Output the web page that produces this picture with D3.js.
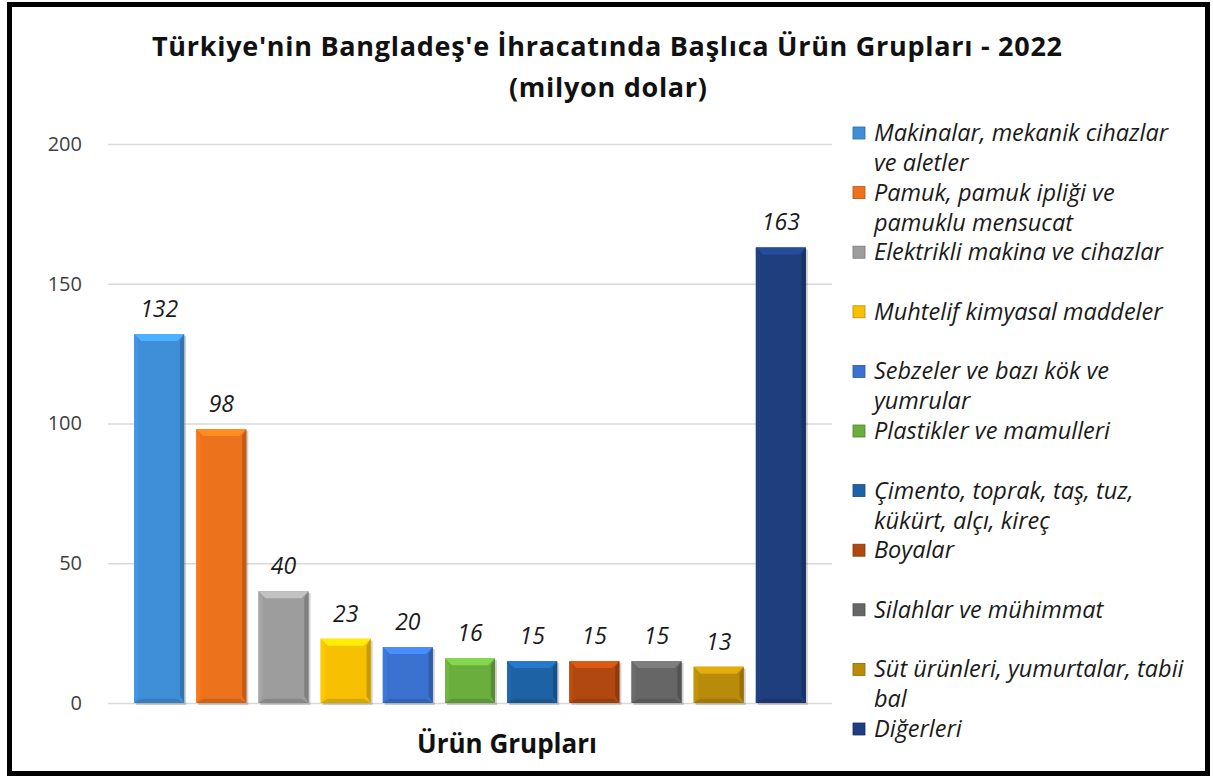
<!DOCTYPE html>
<html>
<head>
<meta charset="utf-8">
<script src="https://cdn.jsdelivr.net/npm/d3@7"></script>
<style>
  body { margin: 0; background: #fff; }
  svg text { font-family: "Open Sans", Lato, sans-serif; }
</style>
</head>
<body>
<div id="chart"></div>
<script>
// data
const categories = [
    'Makinalar, mekanik cihazlar ve aletler',
    'Pamuk, pamuk ipliği ve pamuklu mensucat',
    'Elektrikli makina ve cihazlar',
    'Muhtelif kimyasal maddeler',
    'Sebzeler ve bazı kök ve yumrular',
    'Plastikler ve mamulleri',
    'Çimento, toprak, taş, tuz, kükürt, alçı, kireç',
    'Boyalar',
    'Silahlar ve mühimmat',
    'Süt ürünleri, yumurtalar, tabii bal',
    'Diğerleri'
];
const values = [132, 98, 40, 23, 20, 16, 15, 15, 15, 13, 163];
const colors = ['#3f8fd8', '#ec721b', '#9d9d9d', '#f7c000', '#3b72d0', '#6aae3e',
    '#1e62a6', '#b0480f', '#666666', '#b88c0a', '#1f3e7e'];
// legend wraps the way the original does
const legendLines = [
    ['Makinalar, mekanik cihazlar', 've aletler'],
    ['Pamuk, pamuk ipliği ve', 'pamuklu mensucat'],
    ['Elektrikli makina ve cihazlar'],
    ['Muhtelif kimyasal maddeler'],
    ['Sebzeler ve bazı kök ve', 'yumrular'],
    ['Plastikler ve mamulleri'],
    ['Çimento, toprak, taş, tuz,', 'kükürt, alçı, kireç'],
    ['Boyalar'],
    ['Silahlar ve mühimmat'],
    ['Süt ürünleri, yumurtalar, tabii', 'bal'],
    ['Diğerleri']
];
const yTicks = [0, 50, 100, 150, 200];
const titleLines = ["Türkiye'nin Bangladeş'e İhracatında Başlıca Ürün Grupları - 2022", '(milyon dolar)'];
const xTitle = 'Ürün Grupları';

const width = 1213;
const height = 778;

let svg = d3.select('#chart').append('svg')
    .attr('width', width)
    .attr('height', height);

// frame
svg.append('rect')
    .attr('x', 9.5).attr('y', 4.5)
    .attr('width', 1198).attr('height', 769)
    .attr('fill', '#fff')
    .attr('stroke', '#000')
    .attr('stroke-width', 5);

// title (stretched to the original's width)
svg.append('text')
    .attr('x', 607).attr('y', 56)
    .attr('text-anchor', 'middle')
    .attr('font-size', 27).attr('font-weight', 'bold')
    .attr('fill', '#111')
    .attr('textLength', 910).attr('lengthAdjust', 'spacing')
    .text(titleLines[0]);
svg.append('text')
    .attr('x', 608).attr('y', 97)
    .attr('text-anchor', 'middle')
    .attr('font-size', 27).attr('font-weight', 'bold')
    .attr('fill', '#111')
    .attr('textLength', 198).attr('lengthAdjust', 'spacing')
    .text(titleLines[1]);

let x = d3.scaleBand()
    .domain(categories)
    .range([108, 832])
    .paddingInner(0.195)
    .paddingOuter(0.42);

let y = d3.scaleLinear()
    .domain([0, 200])
    .range([703, 144]);

// gridlines + tick labels
let yAxis = svg.append('g')
    .attr('transform', 'translate(108,0)')
    .call(d3.axisLeft(y).tickValues(yTicks).tickSize(-724).tickPadding(26));
yAxis.select('.domain').remove();
yAxis.selectAll('.tick line').attr('stroke', '#d9d9d9').attr('stroke-width', 1.3);
yAxis.selectAll('.tick text')
    .attr('font-size', 20)
    .attr('fill', '#404040')
    .style('font-family', '"Open Sans", sans-serif');

// bars with a bevel look
const b = 7;
let bars = svg.append('g').selectAll('g')
    .data(categories)
    .enter()
    .append('g');

bars.each(function (d, i) {
    let g = d3.select(this);
    let x0 = x(d), x1 = x(d) + x.bandwidth();
    let y0 = y(values[i]), y1 = y(0);
    let c = d3.color(colors[i]);
    let bb = Math.min(b, (y1 - y0) / 2);

    // soft shadow
    g.append('rect')
        .attr('x', x0 + 2).attr('y', y0 + 2)
        .attr('width', x1 - x0).attr('height', y1 - y0)
        .attr('fill', 'rgba(0,0,0,0.18)');

    g.append('rect')
        .attr('x', x0).attr('y', y0)
        .attr('width', x1 - x0).attr('height', y1 - y0)
        .attr('fill', c.formatHex());

    let poly = (pts, fill) => g.append('polygon')
        .attr('points', pts.map(p => p.join(',')).join(' '))
        .attr('fill', fill);

    poly([[x0, y0], [x1, y0], [x1 - bb, y0 + bb], [x0 + bb, y0 + bb]], c.brighter(0.6).formatHex());
    poly([[x0, y0], [x0 + bb * 0.6, y0 + bb], [x0 + bb * 0.6, y1 - bb], [x0, y1]], c.brighter(0.15).formatHex());
    poly([[x1, y0], [x1 - bb * 0.6, y0 + bb], [x1 - bb * 0.6, y1 - bb], [x1, y1]], c.darker(0.6).formatHex());
    poly([[x0, y1], [x1, y1], [x1 - bb, y1 - bb * 0.6], [x0 + bb, y1 - bb * 0.6]], c.darker(0.4).formatHex());
});

// value labels
svg.append('g').selectAll('text')
    .data(categories)
    .enter()
    .append('text')
    .attr('x', d => x(d) + x.bandwidth() / 2)
    .attr('y', (d, i) => y(values[i]) - 17)
    .attr('text-anchor', 'middle')
    .attr('font-size', 23)
    .attr('font-style', 'italic')
    .attr('fill', '#1a1a1a')
    .text((d, i) => values[i]);

// x title
svg.append('text')
    .attr('x', 507).attr('y', 753)
    .attr('text-anchor', 'middle')
    .attr('font-size', 26).attr('font-weight', 'bold')
    .attr('fill', '#111')
    .text(xTitle);

// legend
let legend = svg.append('g').selectAll('g')
    .data(categories)
    .enter()
    .append('g')
    .attr('transform', (d, i) => 'translate(853,' + (133 + 59.6 * i) + ')');

legend.append('rect')
    .attr('x', 0).attr('y', -6)
    .attr('width', 12).attr('height', 12)
    .attr('fill', (d, i) => colors[i])
    .attr('stroke', (d, i) => d3.color(colors[i]).darker(0.8))
    .attr('stroke-width', 0.8);

legend.each(function (d, i) {
    let t = d3.select(this).append('text')
        .attr('font-size', 23.5)
        .attr('font-style', 'italic')
        .attr('fill', '#1a1a1a');
    legendLines[i].forEach((line, k) => {
        t.append('tspan')
            .attr('x', 21)
            .attr('y', 8 + k * 30)
            .text(line);
    });
});
</script>
</body>
</html>
